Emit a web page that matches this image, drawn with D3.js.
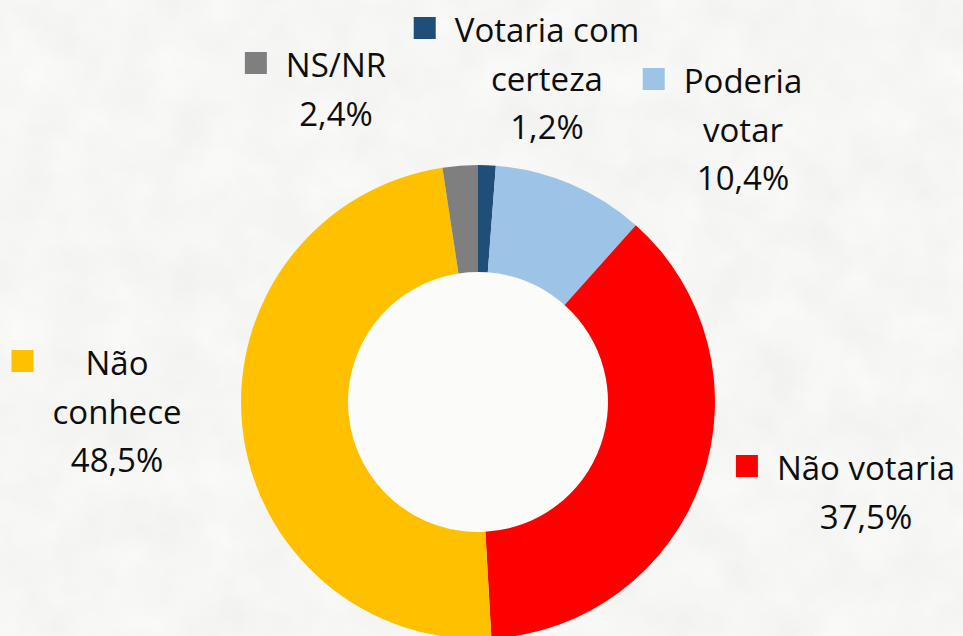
<!DOCTYPE html>
<html>
<head>
<meta charset="utf-8">
<script src="https://cdn.jsdelivr.net/npm/d3@7"></script>
<style>
	html, body { margin: 0; padding: 0; background: #f3f3f1; }
	svg { display: block; }
	.lbl { font-family: "Open Sans", sans-serif; font-size: 33px; fill: #0d0d0d; }
</style>
</head>
<body>
<svg class="donut"></svg>
<script>
// data
const categories = ["Votaria com certeza", "Poderia votar", "Não votaria", "Não conhece", "NS/NR"];
const values = [1.2, 10.4, 37.5, 48.5, 2.4];
const labelLines = [["Votaria com", "certeza"], ["Poderia", "votar"], ["Não votaria"], ["Não", "conhece"], ["NS/NR"]];
const colors = ["#1f4e79", "#9dc3e6", "#ff0000", "#ffc000", "#7f7f7f"];

// where each label sits (text center, first baseline) - placed by hand in the original
const labelPos = [
	{ x: 547, y: 42 },
	{ x: 743, y: 93 },
	{ x: 866, y: 480 },
	{ x: 117, y: 375 },
	{ x: 336, y: 77 },
];

const size = { w: 963, h: 636 };
const center = { x: 478, y: 402 };
const outerR = 237, innerR = 130;
const lineH = 48.5, keySize = 22, keyGap = 19;

const svg = d3.select("svg.donut").attr("width", size.w).attr("height", size.h);

// mottled paper-ish background, kept faint
const filter = svg.append("defs").append("filter")
	.attr("id", "paper")
	.attr("x", 0).attr("y", 0).attr("width", "100%").attr("height", "100%");
filter.append("feTurbulence")
	.attr("type", "fractalNoise")
	.attr("baseFrequency", 0.02)
	.attr("numOctaves", 4)
	.attr("seed", 3);
filter.append("feColorMatrix")
	.attr("type", "matrix")
	.attr("values", "0 0 0 0 1  0 0 0 0 1  0 0 0 0 1  0.9 0 0 0 0.05");

svg.append("rect")
	.attr("width", size.w)
	.attr("height", size.h)
	.attr("fill", "#f0f0ee");
svg.append("rect")
	.attr("width", size.w)
	.attr("height", size.h)
	.attr("filter", "url(#paper)")
	.attr("opacity", 0.8);

const data = categories.map((c, i) => ({ name: c, value: values[i], lines: labelLines[i], color: colors[i], pos: labelPos[i] }));

const pie = d3.pie().sort(null).value((d) => d.value);
const arc = d3.arc().innerRadius(innerR).outerRadius(outerR);

const chartG = svg.append("g").attr("transform", `translate(${center.x},${center.y})`);

chartG.append("circle")
	.attr("r", innerR)
	.attr("fill", "#fbfbfa");

chartG.selectAll("path")
	.data(pie(data))
	.join("path")
	.attr("d", arc)
	.attr("fill", (d) => d.data.color);

const fmt = (v) => d3.format(".1f")(v).replace(".", ",") + "%";

const labelG = svg.append("g").classed("labels", true);

data.forEach((d) => {
	let g = labelG.append("g");
	let lines = d.lines.concat([fmt(d.value)]);
	let texts = g.selectAll("text")
		.data(lines)
		.join("text")
		.attr("class", "lbl")
		.attr("text-anchor", "middle")
		.attr("x", d.pos.x)
		.attr("y", (t, i) => d.pos.y + i * lineH)
		.text((t) => t);

	let maxW = d3.max(texts.nodes(), (n) => n.getComputedTextLength());
	g.append("rect")
		.attr("x", d.pos.x - maxW / 2 - keyGap - keySize)
		.attr("y", d.pos.y - 14 - keySize / 2)
		.attr("width", keySize)
		.attr("height", keySize)
		.attr("fill", d.color);
});
</script>
</body>
</html>
